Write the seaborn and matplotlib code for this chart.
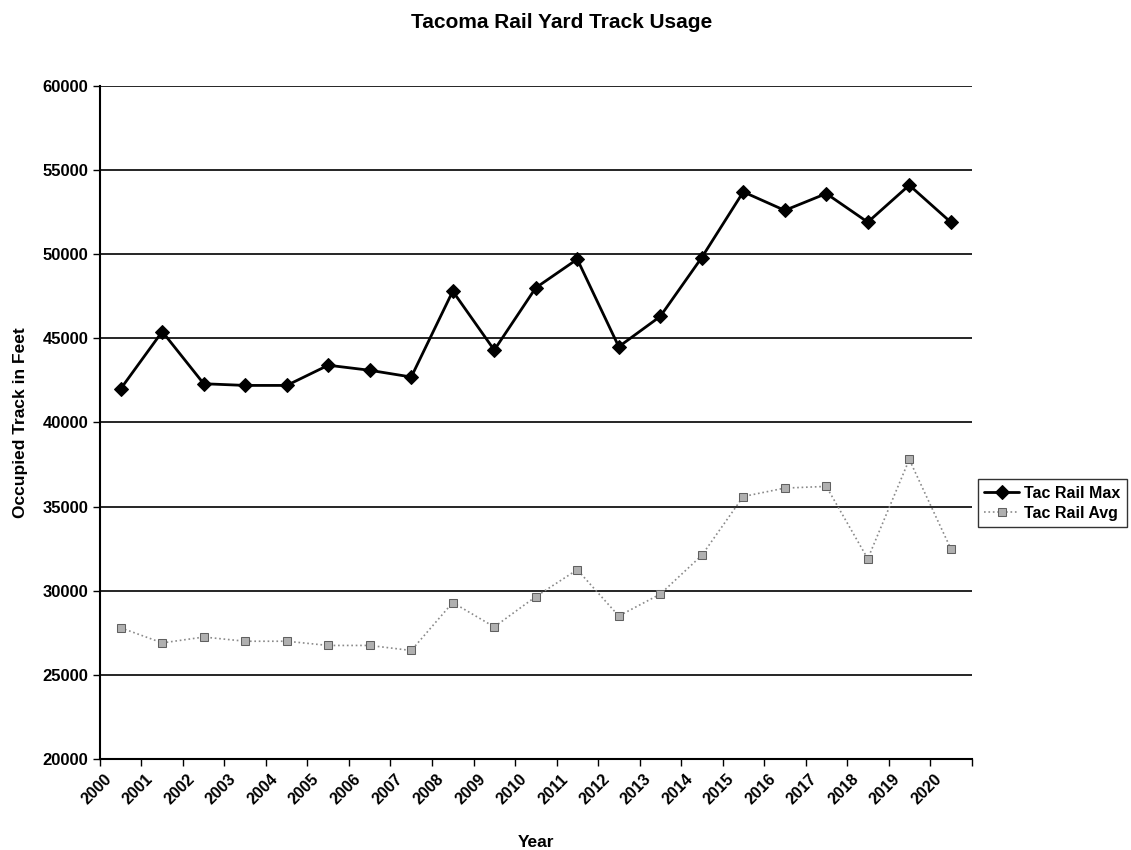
import pandas as pd
import matplotlib.pyplot as plt
import seaborn as sns

years = [str(y) for y in range(2000, 2021)]
tac_max = [42000, 45400, 42300, 42200, 42200, 43400, 43100, 42700, 47800, 44300, 48000,
           49700, 44500, 46300, 49800, 53700, 52600, 53600, 51900, 54100, 51900]
tac_avg = [27800, 26900, 27250, 27000, 27000, 26750, 26750, 26450, 29300, 27850, 29650,
           31250, 28500, 29800, 32100, 35600, 36100, 36200, 31900, 37800, 32500]

sns.set_style('white')
plt.rcParams['font.family'] = ['Liberation Sans', 'DejaVu Sans']
plt.rcParams['font.weight'] = 'bold'
plt.rcParams['text.color'] = 'black'
plt.rcParams['axes.labelcolor'] = 'black'
plt.rcParams['xtick.color'] = 'black'
plt.rcParams['ytick.color'] = 'black'

df = pd.DataFrame({'Year': years, 'Tac Rail Max': tac_max, 'Tac Rail Avg': tac_avg})
df['pos'] = range(len(years))

fig = plt.figure(figsize=(11.31, 8.5), dpi=100)
ax = fig.add_axes([0.0884, 0.107, 0.7706, 0.792])

sns.lineplot(data=df, x='pos', y='Tac Rail Max', ax=ax, color='black', linewidth=2,
             marker='D', markersize=7.5, markeredgecolor='black', label='Tac Rail Max')
sns.lineplot(data=df, x='pos', y='Tac Rail Avg', ax=ax, color='#8a8a8a', linewidth=1.2,
             linestyle=':', marker='s', markersize=5.5, markerfacecolor='#b0b0b0',
             markeredgecolor='#606060', label='Tac Rail Avg')

ax.set_ylim(20000, 60000)
ax.set_yticks(range(20000, 60001, 5000))
ax.set_xlim(-0.5, len(years) - 0.5)
# category boundaries carry the tick marks, labels sit left of centre
ax.set_xticks([i - 0.5 for i in range(len(years) + 1)])
ax.set_xticklabels([])
ax.set_xticks([i - 0.4 for i in range(len(years))], minor=True)
ax.set_xticklabels(years, minor=True, rotation=45, ha='right', rotation_mode='anchor',
                   fontsize=11.5, fontweight='bold')
ax.tick_params(axis='x', which='minor', length=0, pad=9)
ax.tick_params(axis='x', which='major', bottom=True, length=5, width=1, direction='out')
ax.tick_params(axis='y', left=True, length=5, width=1, direction='out', labelsize=12)
ax.grid(axis='y', color='black', linewidth=1.2)
ax.set_axisbelow(True)

for s in ['top', 'right']:
    ax.spines[s].set_visible(False)
for s in ['left', 'bottom']:
    ax.spines[s].set_color('black')
    ax.spines[s].set_linewidth(1.5)

ax.set_xlabel('Year', fontsize=12.5, fontweight='bold', labelpad=20)
ax.set_ylabel('Occupied Track in Feet', fontsize=12.5, fontweight='bold', labelpad=10)
fig.suptitle('Tacoma Rail Yard Track Usage', x=0.497, y=0.985, fontsize=15, fontweight='bold')

leg = ax.legend(loc='center left', bbox_to_anchor=(1.007, 0.38), frameon=True, fancybox=False,
                fontsize=11.5, handlelength=2.2, handletextpad=0.3, borderpad=0.4,
                labelspacing=0.3, borderaxespad=0)
leg.get_frame().set_edgecolor('black')
leg.get_frame().set_linewidth(1)

fig.savefig('out.png', dpi=100)
